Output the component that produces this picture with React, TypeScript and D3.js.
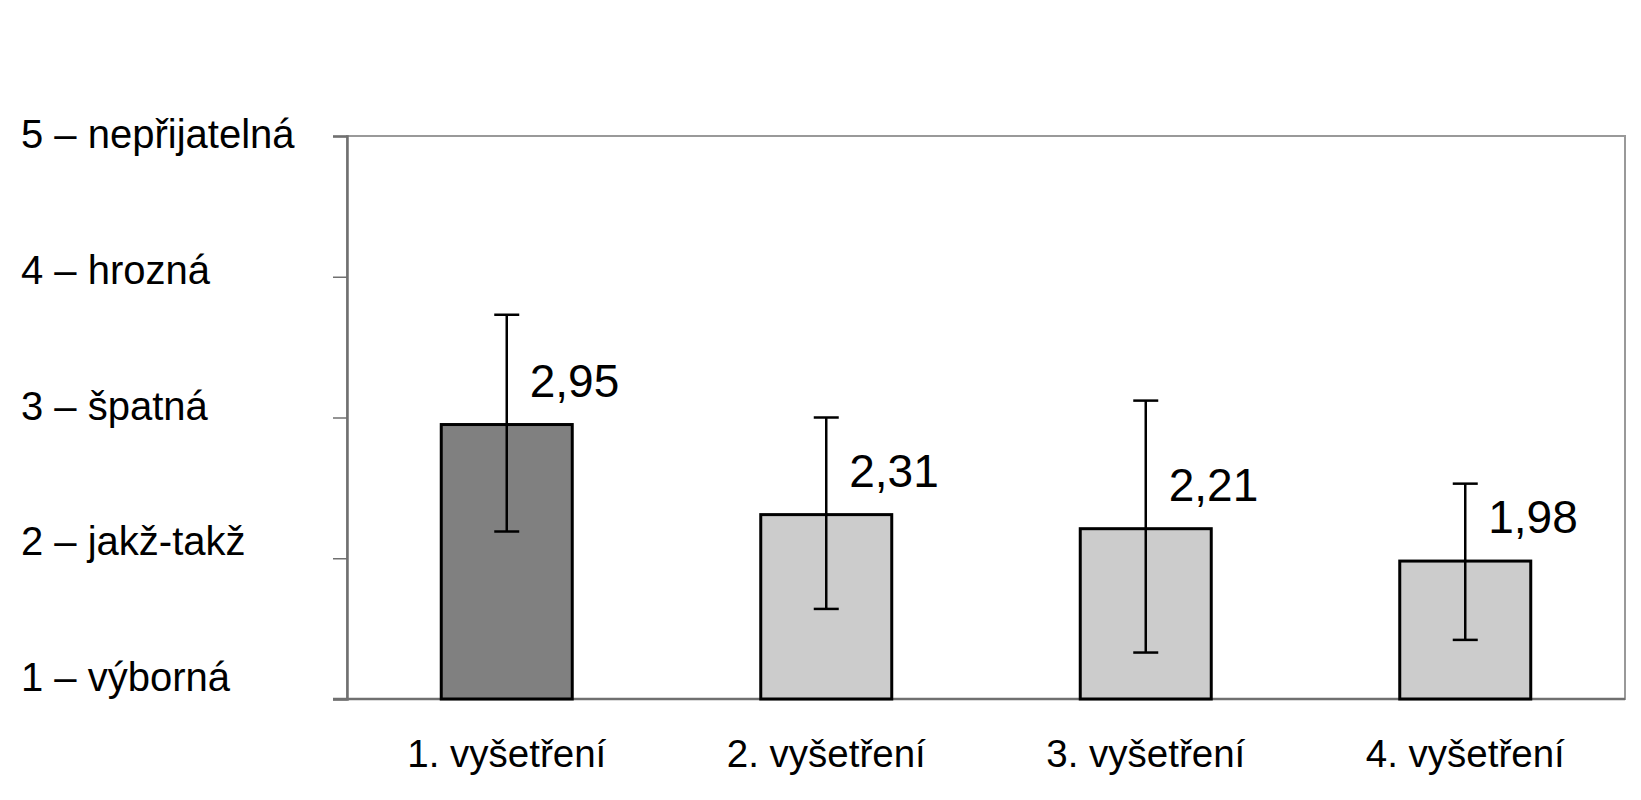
import React, { useEffect, useRef } from "react";
import * as d3 from "d3";

// categories and values
const categories = ["1. vyšetření", "2. vyšetření", "3. vyšetření", "4. vyšetření"];
const means = [2.95, 2.31, 2.21, 1.98];
const errLow = [2.19, 1.64, 1.33, 1.42];
const errHigh = [3.73, 3.0, 3.12, 2.53];
const meanLabels = ["2,95", "2,31", "2,21", "1,98"];
const yTicks = [1, 2, 3, 4, 5];
const yTickLabels = ["1 – výborná", "2 – jakž-takž", "3 – špatná", "4 – hrozná", "5 – nepřijatelná"];

const App = () => {
  const svgRef = useRef<SVGSVGElement | null>(null);
  const w = 1641;
  const h = 800;
  const m = { top: 136, right: 16, bottom: 101, left: 347 };
  const font = "'Liberation Sans', Arial, sans-serif";

  useEffect(() => {
    document.body.style.margin = "0";
    const svg = d3.select(svgRef.current);
    svg.selectAll("*").remove();
    svg.attr("width", w).attr("height", h).style("background", "#fff");

    const x = d3
      .scaleBand()
      .domain(categories)
      .range([m.left, w - m.right])
      .paddingInner(0.59)
      .paddingOuter(0.295);

    const y = d3.scaleLinear().domain([1, 5]).range([h - m.bottom, m.top]);
    // the category labels sit on their own evenly spaced column, a bit above the ticks
    const yLab = d3.scaleLinear().domain([1, 5]).range([677, 134]);

    // plot frame
    svg
      .append("rect")
      .attr("x", m.left)
      .attr("y", m.top)
      .attr("width", w - m.right - m.left)
      .attr("height", h - m.bottom - m.top)
      .attr("fill", "none")
      .attr("stroke", "#999")
      .attr("stroke-width", 2);

    // left axis
    const yAxis = d3.axisLeft(y).tickValues(yTicks).tickSize(14).tickFormat(() => "");
    const ga = svg.append("g").attr("transform", `translate(${m.left},0)`).call(yAxis);
    ga.select(".domain").attr("stroke", "#707070").attr("stroke-width", 2.5);
    ga.selectAll(".tick line").attr("stroke", "#707070").attr("stroke-width", 1.5);

    svg
      .append("line")
      .attr("x1", m.left - 14)
      .attr("x2", w - m.right)
      .attr("y1", y(1))
      .attr("y2", y(1))
      .attr("stroke", "#707070")
      .attr("stroke-width", 2.5);

    svg
      .append("g")
      .selectAll("text")
      .data(yTicks)
      .enter()
      .append("text")
      .attr("x", 21)
      .attr("y", (d) => yLab(d) + 14)
      .attr("font-family", font)
      .attr("font-size", 40)
      .attr("fill", "#000")
      .text((d, i) => yTickLabels[i]);

    // bars
    svg
      .append("g")
      .selectAll("rect")
      .data(means)
      .enter()
      .append("rect")
      .attr("x", (d, i) => x(categories[i])!)
      .attr("y", (d) => y(d))
      .attr("width", x.bandwidth())
      .attr("height", (d) => y(1) - y(d))
      .attr("fill", (d, i) => (i === 0 ? "#808080" : "#cccccc"))
      .attr("stroke", "#000")
      .attr("stroke-width", 3);

    // error bars
    const cx = (i: number) => x(categories[i])! + x.bandwidth() / 2;
    const eb = svg
      .append("g")
      .selectAll("g")
      .data(means)
      .enter()
      .append("g")
      .attr("stroke", "#000")
      .attr("stroke-width", 2.5);
    eb.append("line")
      .attr("x1", (d, i) => cx(i))
      .attr("x2", (d, i) => cx(i))
      .attr("y1", (d, i) => y(errLow[i]))
      .attr("y2", (d, i) => y(errHigh[i]));
    eb.append("line")
      .attr("x1", (d, i) => cx(i) - 12.5)
      .attr("x2", (d, i) => cx(i) + 12.5)
      .attr("y1", (d, i) => y(errHigh[i]))
      .attr("y2", (d, i) => y(errHigh[i]));
    eb.append("line")
      .attr("x1", (d, i) => cx(i) - 12.5)
      .attr("x2", (d, i) => cx(i) + 12.5)
      .attr("y1", (d, i) => y(errLow[i]))
      .attr("y2", (d, i) => y(errLow[i]));

    // value labels
    svg
      .append("g")
      .selectAll("text")
      .data(means)
      .enter()
      .append("text")
      .attr("x", (d, i) => cx(i) + 23)
      .attr("y", (d) => y(d) - 28)
      .attr("font-family", font)
      .attr("font-size", 46)
      .attr("fill", "#000")
      .text((d, i) => meanLabels[i]);

    // category labels
    svg
      .append("g")
      .selectAll("text")
      .data(categories)
      .enter()
      .append("text")
      .attr("x", (d) => x(d)! + x.bandwidth() / 2)
      .attr("y", 767)
      .attr("text-anchor", "middle")
      .attr("font-family", font)
      .attr("font-size", 38.5)
      .attr("fill", "#000")
      .text((d) => d);
  }, []);

  return <svg ref={svgRef} style={{ display: "block" }}></svg>;
};

export default App;
